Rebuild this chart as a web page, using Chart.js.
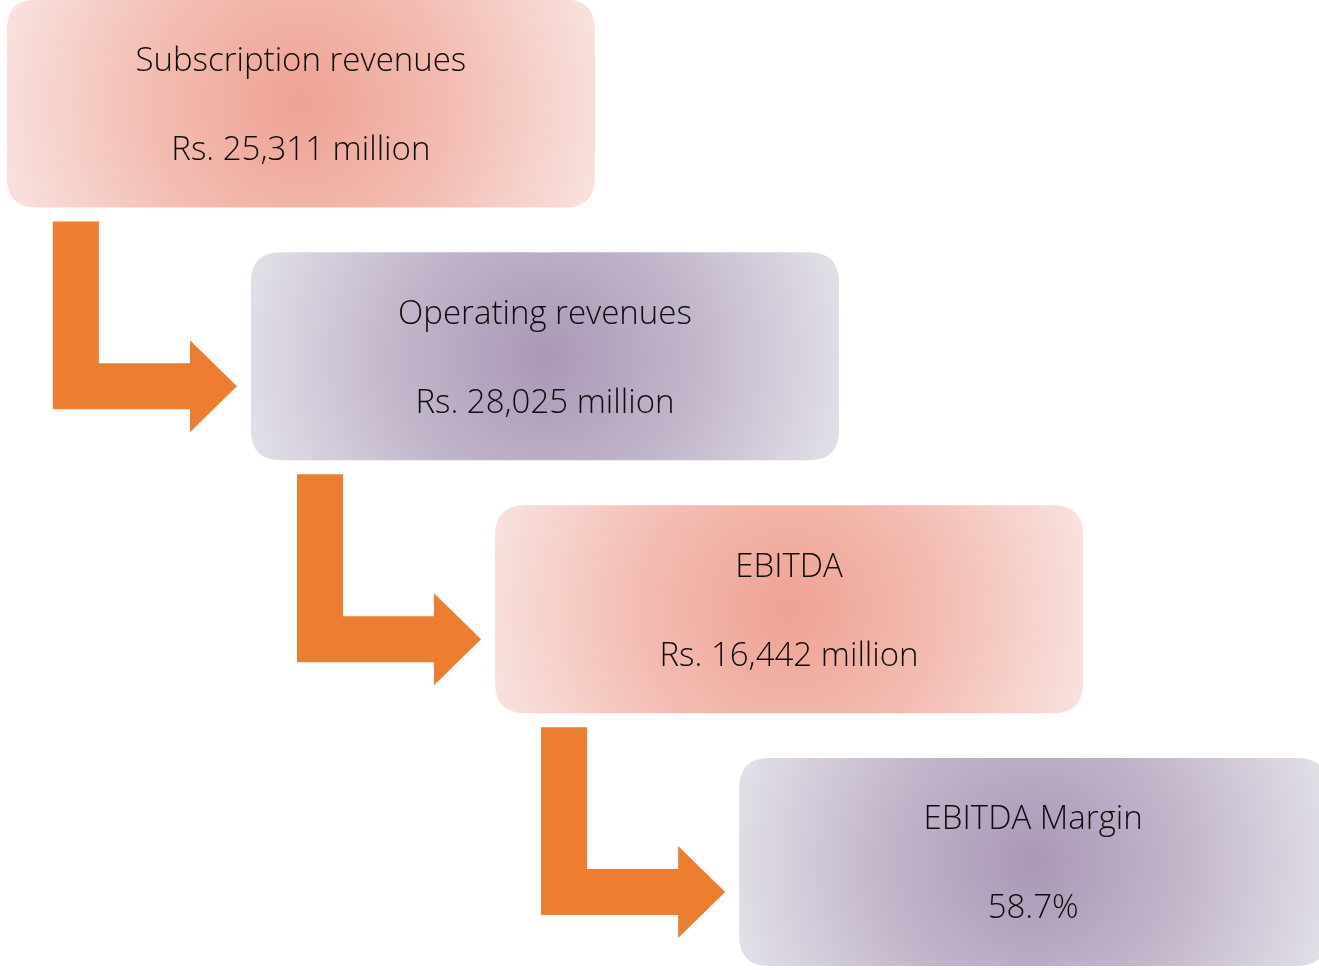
<!DOCTYPE html>
<html>
<head>
<meta charset="utf-8">
<script src="https://cdn.jsdelivr.net/npm/chart.js@4"></script>
<style>
  html, body { margin: 0; padding: 0; background: #ffffff; }
  canvas { display: block; }
</style>
</head>
<body>
<canvas id="flowChart" width="1319" height="970"></canvas>
<script>
// Steps of the flow, top-left to bottom-right
const stepLabels = ['Subscription revenues', 'Operating revenues', 'EBITDA', 'EBITDA Margin'];
const stepValues = ['Rs. 25,311 million', 'Rs. 28,025 million', 'Rs. 16,442 million', '58.7%'];
const stepIndex = [0, 1, 2, 3];
const stepTheme = ['pink', 'purple', 'pink', 'purple'];

// Box colours: centre, middle and edge of the radial gradient
const themes = {
    pink: { inner: '#efa294', mid: '#f3bcb2', outer: '#f8e0dc' },
    purple: { inner: '#a998b6', mid: '#c2b6cb', outer: '#e1dee6' }
};
const arrowColor = '#ed7d31';

const boxHalfW = 294;
const boxHalfH = 104;
const boxRadius = 30;

function roundRect(ctx, x, y, w, h, r) {
    ctx.beginPath();
    ctx.moveTo(x + r, y);
    ctx.lineTo(x + w - r, y);
    ctx.quadraticCurveTo(x + w, y, x + w, y + r);
    ctx.lineTo(x + w, y + h - r);
    ctx.quadraticCurveTo(x + w, y + h, x + w - r, y + h);
    ctx.lineTo(x + r, y + h);
    ctx.quadraticCurveTo(x, y + h, x, y + h - r);
    ctx.lineTo(x, y + r);
    ctx.quadraticCurveTo(x, y, x + r, y);
    ctx.closePath();
}

const flowPlugin = {
    id: 'flowBoxes',
    afterDatasetsDraw(chart) {
        const ctx = chart.ctx;
        const pts = chart.getDatasetMeta(0).data;

        // arrows between consecutive boxes
        ctx.save();
        ctx.fillStyle = arrowColor;
        for (let i = 0; i < pts.length - 1; i++) {
            const p = pts[i], q = pts[i + 1];
            const vx0 = p.x - 248, vx1 = vx0 + 46;
            const top = p.y + 118;
            const hy0 = q.y + 7, hy1 = hy0 + 46;
            const tip = q.x - 308;
            const base = tip - 47;
            const hc = (hy0 + hy1) / 2;
            ctx.beginPath();
            ctx.moveTo(vx0, top);
            ctx.lineTo(vx1, top);
            ctx.lineTo(vx1, hy0);
            ctx.lineTo(base, hy0);
            ctx.lineTo(base, hc - 46);
            ctx.lineTo(tip, hc);
            ctx.lineTo(base, hc + 46);
            ctx.lineTo(base, hy1);
            ctx.lineTo(vx0, hy1);
            ctx.closePath();
            ctx.fill();
        }
        ctx.restore();

        // boxes with text
        pts.forEach((pt, i) => {
            const th = themes[stepTheme[i]];
            const g = ctx.createRadialGradient(pt.x, pt.y, 0, pt.x, pt.y, boxHalfW * 1.02);
            g.addColorStop(0, th.inner);
            g.addColorStop(0.5, th.mid);
            g.addColorStop(1, th.outer);
            ctx.save();
            ctx.fillStyle = g;
            roundRect(ctx, pt.x - boxHalfW, pt.y - boxHalfH, boxHalfW * 2, boxHalfH * 2, boxRadius);
            ctx.fill();

            ctx.fillStyle = '#0d0d0d';
            ctx.font = '300 33px "Open Sans", "Noto Sans", sans-serif';
            ctx.textAlign = 'center';
            ctx.textBaseline = 'middle';
            ctx.fillText(stepLabels[i], pt.x, pt.y - 42);
            ctx.fillText(stepValues[i], pt.x, pt.y + 47);
            ctx.restore();
        });
    }
};

const ctx1 = document.getElementById('flowChart').getContext('2d');

new Chart(ctx1, {
    type: 'scatter',
    data: {
        labels: stepLabels,
        datasets: [{
            label: 'Flow',
            data: stepIndex.map(s => ({ x: s, y: s })),
            pointRadius: 0,
            pointHoverRadius: 0
        }]
    },
    options: {
        responsive: false,
        animation: false,
        devicePixelRatio: 1,
        layout: { padding: 0 },
        scales: {
            // steps fall roughly 244px right and 253px down from each other
            x: { type: 'linear', display: false, min: -1.2325, max: 4.1710 },
            y: { type: 'linear', display: false, reverse: true, min: -0.4096, max: 3.4274 }
        },
        plugins: {
            legend: { display: false },
            tooltip: { enabled: false }
        }
    },
    plugins: [flowPlugin]
});
</script>
</body>
</html>
